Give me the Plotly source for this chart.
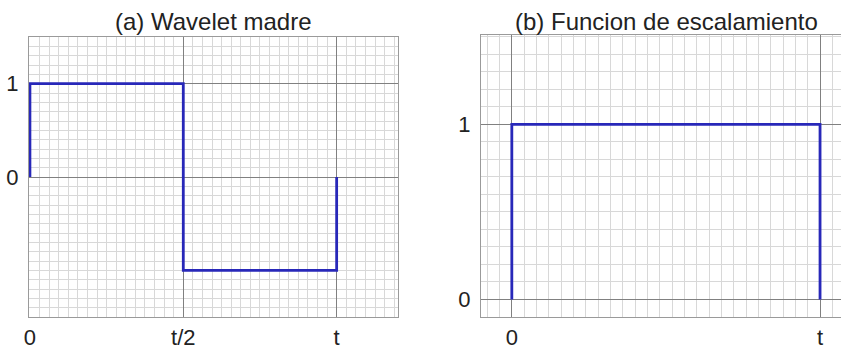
import plotly.graph_objects as go

# Data
wavelet_x = [0, 0, 0.5, 0.5, 1, 1]
wavelet_y = [0, 1, 1, -1, -1, 0]
scaling_x = [0, 0, 1, 1]
scaling_y = [0, 1, 1, 0]

a_xtick_vals = [0, 0.5, 1]
a_xtick_text = ["0", "t/2", "t"]
a_ytick_vals = [0, 1]
a_ytick_text = ["0", "1"]
b_xtick_vals = [0, 1]
b_xtick_text = ["0", "t"]
b_ytick_vals = [0, 1]
b_ytick_text = ["0", "1"]

titles = ["(a) Wavelet madre", "(b) Funcion de escalamiento"]

line_color = "rgb(40,40,185)"
font = dict(family="Liberation Sans, Arial, sans-serif", size=22, color="#222")
W, H = 841, 354

fig = go.Figure()
fig.add_trace(go.Scatter(x=wavelet_x, y=wavelet_y, mode="lines",
                         line=dict(color=line_color, width=2.8),
                         xaxis="x", yaxis="y", showlegend=False, hoverinfo="skip"))
fig.add_trace(go.Scatter(x=scaling_x, y=scaling_y, mode="lines",
                         line=dict(color=line_color, width=2.8),
                         xaxis="x2", yaxis="y2", showlegend=False, hoverinfo="skip"))

def ax(domain, rng, vals, text, anchor, minor_dtick, standoff):
    return dict(domain=domain, range=rng, tickvals=vals, ticktext=text,
                anchor=anchor, showgrid=True, gridcolor="#808080", gridwidth=1,
                zeroline=False, showline=True, mirror=True, linecolor="#9a9a9a",
                linewidth=1, ticks="", tickfont=font, ticklabelstandoff=standoff,
                automargin=False,
                minor=dict(showgrid=True, gridcolor="#d8d8d8", gridwidth=1,
                           dtick=minor_dtick, tick0=0),
                fixedrange=True)

fig.update_layout(
    width=W, height=H,
    margin=dict(l=0, r=0, t=0, b=0, autoexpand=False),
    paper_bgcolor="white", plot_bgcolor="white",
    xaxis=ax([29 / W, 398 / W], [-0.003, 1.2], a_xtick_vals, a_xtick_text, "y", 0.03125, 1),
    yaxis=ax([1 - 317 / H, 1 - 37 / H], [-1.5, 1.5], a_ytick_vals, a_ytick_text, "x", 0.1, 5),
    xaxis2=ax([481 / W, 1.0], [-0.1, 1.068], b_xtick_vals, b_xtick_text, "y2", 0.04, 1),
    yaxis2=ax([1 - 317 / H, 1 - 35 / H], [-0.1, 1.51], b_ytick_vals, b_ytick_text, "x2", 0.1, 5),
    annotations=[
        dict(text=titles[0], x=213 / W, y=1 - 22 / H, xref="paper", yref="paper",
             xanchor="center", yanchor="middle", showarrow=False,
             font=dict(family=font["family"], size=24, color="#222")),
        dict(text=titles[1], x=666 / W, y=1 - 22 / H, xref="paper", yref="paper",
             xanchor="center", yanchor="middle", showarrow=False,
             font=dict(family=font["family"], size=24, color="#222")),
    ],
)

fig.write_html("out.html")
